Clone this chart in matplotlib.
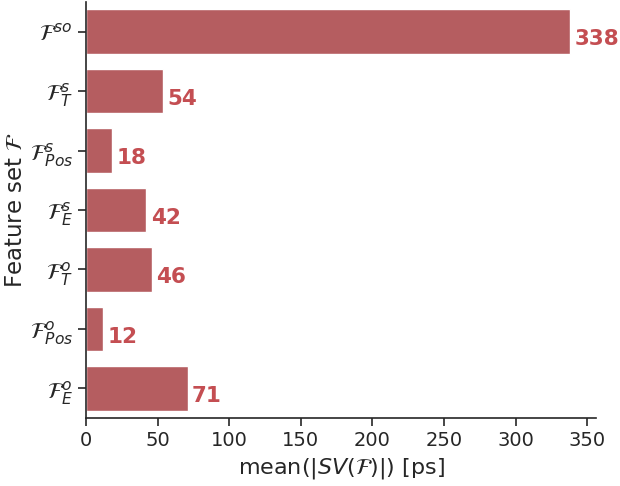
import numpy as np
import matplotlib
matplotlib.use('Agg')
import matplotlib.pyplot as plt
import seaborn as sns

sns.set_style('ticks')

# feature sets, top to bottom
labels = [r'$\mathcal{F}^{so}$', r'$\mathcal{F}^{s}_{T}$', r'$\mathcal{F}^{s}_{Pos}$',
          r'$\mathcal{F}^{s}_{E}$', r'$\mathcal{F}^{o}_{T}$', r'$\mathcal{F}^{o}_{Pos}$',
          r'$\mathcal{F}^{o}_{E}$']
values = [338, 54, 18, 42, 46, 12, 71]

bar_col = sns.desaturate('#c44e52', 0.75)
txt_col = '#c44e52'

fig = plt.figure(figsize=(6.2, 4.86), dpi=100)
ax = fig.add_axes([0.139, 0.140, 0.822, 0.856])

ypos = np.arange(len(values))
ax.barh(ypos, values, height=0.75, color=bar_col)
for i, v in enumerate(values):
    ax.text(v + 3, i + 0.13, str(v), color=txt_col, fontsize=15.5,
            fontweight='bold', va='center', ha='left')

ax.set_ylim(len(values) - 0.5, -0.5)
ax.set_xlim(0, 356)
ax.set_yticks(ypos)
ax.set_yticklabels(labels, fontsize=16)
ax.set_xticks(np.arange(0, 351, 50))
ax.tick_params(axis='x', labelsize=14, length=6, width=1.2)
ax.tick_params(axis='y', length=6, width=1.2)
for s in ['left', 'bottom']:
    ax.spines[s].set_linewidth(1.2)
ax.set_xlabel(r'mean($|SV(\mathcal{F})|$) [ps]', fontsize=16)
ax.set_ylabel(r'Feature set $\mathcal{F}$', fontsize=16.5, labelpad=2)
sns.despine(ax=ax)

fig.savefig('out.png', dpi=100)
